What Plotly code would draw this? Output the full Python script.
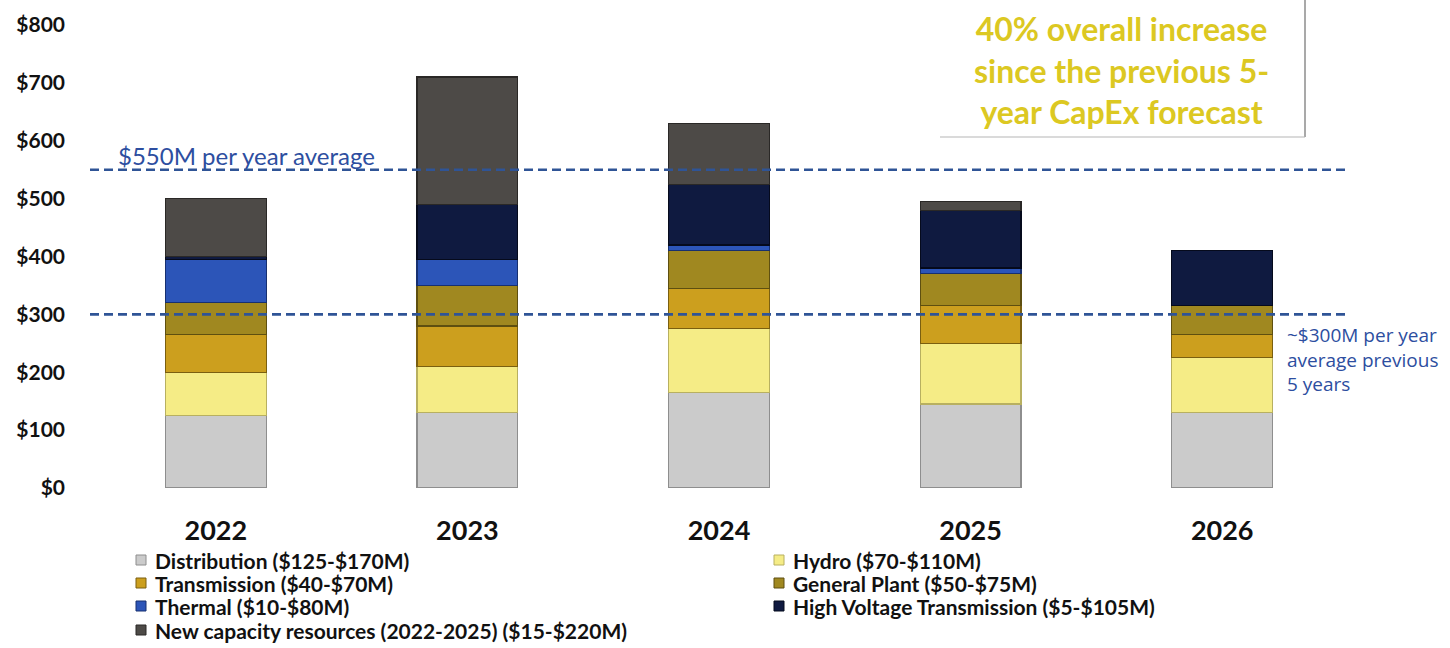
import plotly.graph_objects as go

# Five-year capital expenditure forecast ($M) by category
years = ["2022", "2023", "2024", "2025", "2026"]

distribution = [125, 130, 165, 145, 130]
hydro = [75, 80, 110, 105, 95]
transmission = [65, 70, 70, 65, 40]
general_plant = [55, 70, 65, 55, 50]
thermal = [75, 45, 10, 10, None]
hv_transmission = [5, 95, 105, 100, 95]
new_capacity = [100, 220, 105, 15, None]

series_names = [
    "Distribution ($125-$170M)",
    "Hydro ($70-$110M)",
    "Transmission ($40-$70M)",
    "General Plant ($50-$75M)",
    "Thermal ($10-$80M)",
    "High Voltage Transmission ($5-$105M)",
    "New capacity resources (2022-2025) ($15-$220M)",
]

y_ticks = [0, 100, 200, 300, 400, 500, 600, 700, 800]
y_tick_labels = ["$0", "$100", "$200", "$300", "$400", "$500", "$600", "$700", "$800"]

avg_new = 550   # new forecast yearly average
avg_prev = 300  # previous 5-year yearly average

prev_note = "~$300M per year<br>average previous<br>5 years"
box_note = "40% overall increase<br>since the previous 5-<br>year CapEx forecast"

series_values = [distribution, hydro, transmission, general_plant,
                 thermal, hv_transmission, new_capacity]
fills = ["#cbcbcb", "#f5ec86", "#cc9f1e", "#a08820", "#2c55b8", "#0f1a40", "#4d4a47"]
edges = ["#8e8e8e", "#b8b060", "#7a5f10", "#5e4f10", "#173070", "#050a1c", "#2a2826"]

FONT = "Lato"
BLUE_TEXT = "#2d4ea0"
DASH_BLUE = "#2f5496"

W, H = 1450, 648
ML, MR, MT, MB = 90, 102, 25, 160
PW, PH = W - ML - MR, H - MT - MB


def px_x(px):
    """Pixel column -> paper x."""
    return (px - ML) / PW


def px_y(py):
    """Pixel row -> paper y."""
    return (H - MB - py) / PH


fig = go.Figure()
for name, vals, fc, ec in zip(series_names, series_values, fills, edges):
    fig.add_trace(go.Bar(
        x=years, y=vals, name=name,
        marker=dict(color=fc, line=dict(color=ec, width=1.2)),
        hoverinfo="skip", showlegend=False,
    ))

# Average reference lines
for level in (avg_new, avg_prev):
    fig.add_shape(type="line", xref="paper", yref="y", x0=0, x1=1,
                  y0=level, y1=level, layer="above",
                  line=dict(color=DASH_BLUE, width=2.6, dash="9px,5px"))

# Callout box edges
fig.add_shape(type="line", xref="paper", yref="paper",
              x0=px_x(1305), x1=px_x(1305), y0=px_y(137), y1=px_y(0),
              line=dict(color="#707070", width=1.2))
fig.add_shape(type="line", xref="paper", yref="paper",
              x0=px_x(940), x1=px_x(1305), y0=px_y(137), y1=px_y(137),
              line=dict(color="#b5b5b5", width=1))

fig.add_annotation(
    xref="paper", yref="paper", x=px_x(246), y=px_y(155),
    xanchor="center", yanchor="middle",
    text="$550M per year average", showarrow=False,
    font=dict(family=FONT, size=24, color=BLUE_TEXT),
)
fig.add_annotation(
    xref="paper", yref="paper", x=px_x(1285), y=px_y(360),
    xanchor="left", yanchor="middle", align="left",
    text=prev_note, showarrow=False,
    font=dict(family="Open Sans", size=19, color=BLUE_TEXT),
)
fig.add_annotation(
    xref="paper", yref="paper", x=px_x(1121), y=px_y(70),
    xanchor="center", yanchor="middle",
    text=box_note, showarrow=False, align="center",
    font=dict(family=FONT, size=32, color="#dcc822", weight="bold"),
)

# Legend: two columns of swatches and labels below the year axis
col_icon = [141, 779]
row_y = [560, 583, 606, 630]
for i, (name, fc, ec) in enumerate(zip(series_names, fills, edges)):
    cx, cy = col_icon[i % 2], row_y[i // 2]
    fig.add_shape(type="rect", xref="paper", yref="paper",
                  x0=px_x(cx - 5), x1=px_x(cx + 5),
                  y0=px_y(cy + 5), y1=px_y(cy - 5),
                  fillcolor=fc, line=dict(color=ec, width=1))
    fig.add_annotation(
        xref="paper", yref="paper", x=px_x(cx + 12), y=px_y(cy),
        xanchor="left", yanchor="middle", text=name, showarrow=False,
        font=dict(family=FONT, size=21, color="#111111", weight="bold"),
    )

fig.update_layout(
    width=W, height=H,
    margin=dict(l=ML, r=MR, t=MT, b=MB),
    barmode="stack", bargap=0.6,
    paper_bgcolor="white", plot_bgcolor="white",
    font=dict(family=FONT, color="#111111"),
    showlegend=False,
    xaxis=dict(
        type="category", showgrid=False, showline=False, zeroline=False,
        ticks="", ticklabelstandoff=24, automargin=False,
        tickfont=dict(family=FONT, size=27, color="#111111", weight="bold"),
    ),
    yaxis=dict(
        range=[0, 800], tickvals=y_ticks, ticktext=y_tick_labels,
        showgrid=False, showline=False, zeroline=False, ticks="",
        ticklabelstandoff=24, automargin=False,
        tickfont=dict(family=FONT, size=21, color="#111111", weight="bold"),
    ),
)

fig.write_html("out.html")
